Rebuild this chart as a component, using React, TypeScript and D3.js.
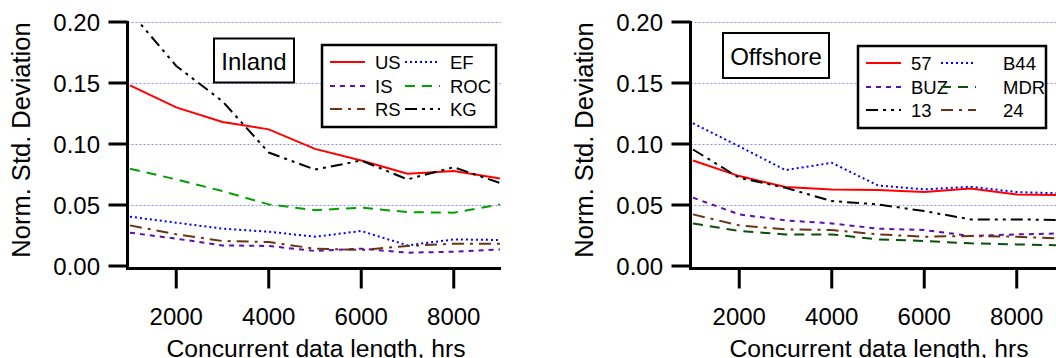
import React from "react";
import * as d3 from "d3";

const hours = [1000, 2000, 3000, 4000, 5000, 6000, 7000, 8000, 9000];
const xTicks = [2000, 4000, 6000, 8000];
const yTicks = [0, 0.05, 0.1, 0.15, 0.2];
const gridTicks = [0.05, 0.1, 0.15, 0.2];

const inlandUS = [0.148, 0.130, 0.118, 0.112, 0.096, 0.0865, 0.0756, 0.0778, 0.0718];
const inlandEF = [0.0404, 0.0355, 0.0306, 0.0281, 0.024, 0.0287, 0.0169, 0.0218, 0.0213];
const inlandIS = [0.0273, 0.0224, 0.0169, 0.0164, 0.0123, 0.0142, 0.0109, 0.0117, 0.0136];
const inlandROC = [0.0797, 0.071, 0.0614, 0.0505, 0.0458, 0.0478, 0.0442, 0.0437, 0.0505];
const inlandRS = [0.0333, 0.026, 0.0205, 0.0196, 0.0142, 0.0131, 0.0164, 0.0183, 0.0183];
const inlandKG = [0.2085, 0.164, 0.135, 0.093, 0.079, 0.0865, 0.071, 0.081, 0.068];

const off57 = [0.0865, 0.0737, 0.0647, 0.0628, 0.0622, 0.0606, 0.0636, 0.0587, 0.058];
const offB44 = [0.117, 0.098, 0.0786, 0.0846, 0.066, 0.0628, 0.065, 0.0606, 0.0595];
const offBUZ = [0.056, 0.0423, 0.0374, 0.0349, 0.0306, 0.0295, 0.0246, 0.0259, 0.0267];
const offMDR = [0.0349, 0.0287, 0.0259, 0.0259, 0.0218, 0.0205, 0.0186, 0.0177, 0.0169];
const off13 = [0.0955, 0.0723, 0.0641, 0.0532, 0.0505, 0.045, 0.0382, 0.0382, 0.0377];
const off24 = [0.0423, 0.0333, 0.030, 0.0295, 0.0259, 0.024, 0.0246, 0.024, 0.0224];

type Style = { color: string; dash: string; width: number };
const sRed: Style = { color: "#ff0000", dash: "", width: 2 };
const sBlue: Style = { color: "#0000ff", dash: "2,3", width: 2 };
const sPurple: Style = { color: "#5b0fb0", dash: "5,5", width: 2 };
const sGreen: Style = { color: "#00a000", dash: "10,7", width: 2 };
const sDkGreen: Style = { color: "#0a4f0a", dash: "10,7", width: 2 };
const sBrown: Style = { color: "#6b3312", dash: "12,6,3,6", width: 2 };
const sBlack: Style = { color: "#000000", dash: "12,5,3,5,3,5", width: 2 };

type Series = { name: string; values: number[]; style: Style };

const inlandSeries: Series[] = [
  { name: "US", values: inlandUS, style: sRed },
  { name: "EF", values: inlandEF, style: sBlue },
  { name: "IS", values: inlandIS, style: sPurple },
  { name: "ROC", values: inlandROC, style: sGreen },
  { name: "RS", values: inlandRS, style: sBrown },
  { name: "KG", values: inlandKG, style: sBlack },
];
const offshoreSeries: Series[] = [
  { name: "57", values: off57, style: sRed },
  { name: "B44", values: offB44, style: sBlue },
  { name: "BUZ", values: offBUZ, style: sPurple },
  { name: "MDR", values: offMDR, style: sDkGreen },
  { name: "13", values: off13, style: sBlack },
  { name: "24", values: off24, style: sBrown },
];

const FONT = "'Liberation Sans', Arial, sans-serif";

type PanelProps = {
  id: string;
  ox: number;
  title: string;
  titleBox: { x: number; y: number; w: number; h: number };
  legendBox: { x: number; y: number; w: number; h: number };
  series: Series[];
  col2Label: number;
};

function Panel({ id, ox, title, titleBox, legendBox, series, col2Label }: PanelProps) {
  const x = d3.scaleLinear().domain([1000, 9000]).range([ox + 130, ox + 500]);
  const y = d3.scaleLinear().domain([0, 0.2]).range([266, 22]);
  const line = d3
    .line<number>()
    .x((_, i) => x(hours[i]))
    .y((v) => y(v));
  const axisX = ox + 127.5;
  const axisY = 268.5;
  const right = x(9000) + 1;
  const rowY = [legendBox.y + 17, legendBox.y + 41, legendBox.y + 64];
  return (
    <g>
      <defs>
        <clipPath id={`clip-${id}`}>
          <rect x={axisX} y={y(0.2)} width={right - axisX} height={axisY - y(0.2)} />
        </clipPath>
      </defs>
      {gridTicks.map((t) => (
        <line
          key={t}
          x1={axisX}
          x2={right}
          y1={y(t) + 0.5}
          y2={y(t) + 0.5}
          stroke="#8c8cff"
          strokeWidth={1}
          strokeDasharray="2,2"
        />
      ))}
      <g clipPath={`url(#clip-${id})`}>
        {series.map((s) => (
          <path
            key={s.name}
            d={line(s.values) || ""}
            fill="none"
            stroke={s.style.color}
            strokeWidth={s.style.width}
            strokeDasharray={s.style.dash}
          />
        ))}
      </g>
      {/* axes */}
      <line x1={axisX} x2={axisX} y1={y(0.2) - 1} y2={axisY + 1.5} stroke="#000" strokeWidth={3} />
      <line x1={axisX - 1.5} x2={right} y1={axisY} y2={axisY} stroke="#000" strokeWidth={3} />
      {yTicks.map((t) => (
        <g key={t}>
          <line x1={axisX - 19} x2={axisX} y1={y(t)} y2={y(t)} stroke="#000" strokeWidth={3} />
          <text
            x={axisX - 27.5}
            y={y(t) + 9}
            textAnchor="end"
            fontFamily={FONT}
            fontSize={24}
            fill="#000"
          >
            {d3.format(".2f")(t)}
          </text>
        </g>
      ))}
      {xTicks.map((t) => (
        <g key={t}>
          <line x1={x(t)} x2={x(t)} y1={axisY} y2={axisY + 20} stroke="#000" strokeWidth={3} />
          <text x={x(t)} y={325} textAnchor="middle" fontFamily={FONT} fontSize={24} fill="#000">
            {t}
          </text>
        </g>
      ))}
      <text
        x={ox + 316}
        y={357}
        textAnchor="middle"
        fontFamily={FONT}
        fontSize={24.7}
        fill="#000"
      >
        Concurrent data length, hrs
      </text>
      <text
        transform={`translate(${ox + 30},${140}) rotate(-90)`}
        textAnchor="middle"
        fontFamily={FONT}
        fontSize={25.5}
        fill="#000"
      >
        Norm. Std. Deviation
      </text>
      {/* title box */}
      <rect
        x={titleBox.x}
        y={titleBox.y}
        width={titleBox.w}
        height={titleBox.h}
        fill="#fff"
        stroke="#000"
        strokeWidth={2}
      />
      <text
        x={titleBox.x + titleBox.w / 2}
        y={titleBox.y + titleBox.h / 2 + 9}
        textAnchor="middle"
        fontFamily={FONT}
        fontSize={24}
        fill="#000"
      >
        {title}
      </text>
      {/* legend */}
      <rect
        x={legendBox.x}
        y={legendBox.y}
        width={legendBox.w}
        height={legendBox.h}
        fill="#fff"
        stroke="#000"
        strokeWidth={2.5}
      />
      {series.map((s, i) => {
        const col = i % 2;
        const row = Math.floor(i / 2);
        const sx = col === 0 ? legendBox.x + 8 : legendBox.x + 83;
        const lx = col === 0 ? legendBox.x + 53 : legendBox.x + col2Label;
        const ry = rowY[row];
        return (
          <g key={s.name}>
            <line
              x1={sx}
              x2={sx + 35}
              y1={ry}
              y2={ry}
              stroke={s.style.color}
              strokeWidth={s.style.width}
              strokeDasharray={s.style.dash}
            />
            <text x={lx} y={ry + 7} fontFamily={FONT} fontSize={18.5} fill="#000">
              {s.name}
            </text>
          </g>
        );
      })}
    </g>
  );
}

export default function App() {
  return (
    <svg
      width={1056}
      height={358}
      style={{ position: "absolute", left: 0, top: 0, background: "#fff" }}
    >
      <rect x={0} y={0} width={1056} height={358} fill="#fff" />
      <Panel
        id="inland"
        ox={0}
        title="Inland"
        titleBox={{ x: 214, y: 38.5, w: 80, h: 44 }}
        legendBox={{ x: 322, y: 45, w: 174, h: 82 }}
        series={inlandSeries}
        col2Label={128}
      />
      <Panel
        id="offshore"
        ox={563}
        title="Offshore"
        titleBox={{ x: 723, y: 33, w: 106, h: 45 }}
        legendBox={{ x: 858, y: 46, w: 188, h: 82 }}
        series={offshoreSeries}
        col2Label={145}
      />
    </svg>
  );
}
